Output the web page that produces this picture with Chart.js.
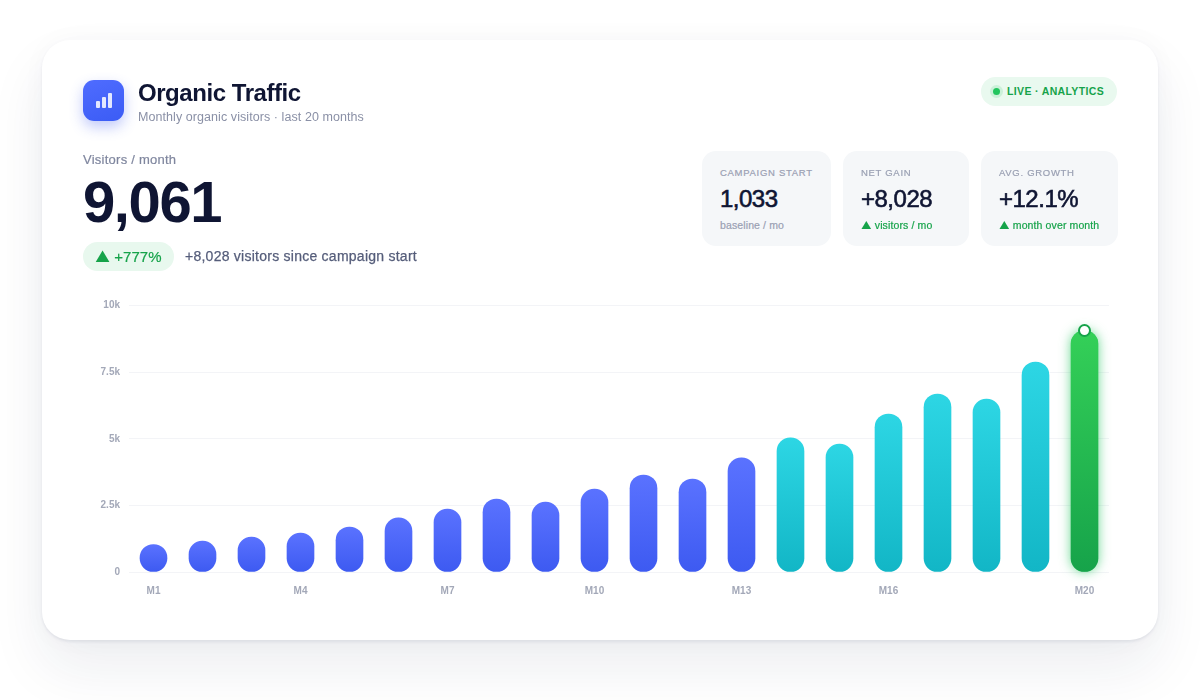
<!DOCTYPE html>
<html>
<head>
<meta charset="utf-8">
<title>Organic Traffic</title>
<script src="https://cdn.jsdelivr.net/npm/chart.js@4/dist/chart.umd.min.js"></script>
<style>
  * { box-sizing: border-box; }
  html, body { margin: 0; width: 1200px; height: 700px; overflow: hidden; background: #fff; font-family: "Liberation Sans", Arial, sans-serif; }
  .card { position: absolute; left: 42px; top: 40px; width: 1116px; height: 600px; background: #fff; border-radius: 28px;
          box-shadow: 0 2px 3px rgba(20,28,60,.07), 0 28px 56px rgba(30,40,80,.08), 0 0 24px rgba(30,40,80,.03); }
  #chartWrap { position: absolute; left: 0; top: 0; width: 1200px; height: 700px; }
  .abs { position: absolute; white-space: nowrap; }
  .tri { font-family: Inter, sans-serif; -webkit-text-stroke: 0; }
  .icon { left: 83px; top: 80px; width: 41px; height: 41px; border-radius: 11px; background: linear-gradient(160deg, #4f6cff, #3b5cf5);
          box-shadow: 0 6px 14px rgba(61,90,241,.32); }
  .icon i { position: absolute; bottom: 13px; width: 4px; background: rgba(255,255,255,.85); border-radius: 1px; }
  .title { left: 138px; top: 78px; font-size: 24px; line-height: 30px; font-weight: 700; color: #0f1533; letter-spacing: -.45px; }
  .sub { left: 138px; top: 109px; font-size: 12.5px; line-height: 16px; color: #8a90a6; letter-spacing: .07px; }
  .live { left: 981px; top: 77px; width: 136px; height: 29px; border-radius: 15px; background: #e9f9ef; }
  .live b { position: absolute; left: 26px; top: 7px; font-size: 10.5px; line-height: 15px; font-weight: 700; color: #16a34a; letter-spacing: .35px; }
  .live i { position: absolute; left: 12px; top: 11px; width: 7px; height: 7px; border-radius: 50%; background: #22c55e; box-shadow: 0 0 0 3px rgba(34,197,94,.15); }
  .kicker { left: 83px; top: 152px; font-size: 13px; line-height: 16px; color: #7f869e; letter-spacing: .25px; -webkit-text-stroke: .2px #7f869e; }
  .big { left: 83px; top: 169px; font-size: 58px; line-height: 66px; font-weight: 700; color: #0f1533; letter-spacing: -1.4px; }
  .pill { left: 83px; top: 242px; width: 91px; height: 29px; border-radius: 15px; background: #e8f8ee; color: #16a34a; font-size: 15px; line-height: 29px; padding-left: 12px; -webkit-text-stroke: .2px #16a34a; }
  .since { left: 185px; top: 248px; font-size: 14px; line-height: 17px; color: #555d7a; letter-spacing: .25px; -webkit-text-stroke: .25px #555d7a; }
  .stat { position: absolute; top: 151px; height: 95px; border-radius: 14px; background: #f5f7f9; }
  .stat .h { position: absolute; left: 18px; top: 15px; font-size: 9.5px; line-height: 13px; color: #9aa0b3; letter-spacing: .7px; white-space: nowrap; -webkit-text-stroke: .2px #9aa0b3; }
  .stat .v { position: absolute; left: 18px; top: 34px; font-size: 24px; line-height: 28px; color: #0f1533; letter-spacing: -.5px; white-space: nowrap; -webkit-text-stroke: .6px #0f1533; }
  .stat .f { position: absolute; left: 18px; top: 67px; font-size: 10.5px; line-height: 14px; color: #9aa0b3; letter-spacing: .12px; white-space: nowrap; -webkit-text-stroke: .2px #9aa0b3; }
  .stat .up { color: #16a34a; -webkit-text-stroke: .2px #16a34a; }
</style>
</head>
<body>
<div class="card"></div>
<div id="chartWrap"><canvas id="trafficChart" width="1200" height="700"></canvas></div>

<div class="abs icon"><i style="left:13px;height:7px"></i><i style="left:19px;height:11px"></i><i style="left:25px;height:15px"></i></div>
<div class="abs title">Organic Traffic</div>
<div class="abs sub">Monthly organic visitors · last 20 months</div>
<div class="abs live"><i></i><b>LIVE · ANALYTICS</b></div>
<div class="abs kicker">Visitors / month</div>
<div class="abs big">9,061</div>
<div class="abs pill"><span class="tri">▲</span> +777%</div>
<div class="abs since">+8,028 visitors since campaign start</div>

<div class="stat" style="left:702px;width:129px"><div class="h">CAMPAIGN START</div><div class="v">1,033</div><div class="f">baseline / mo</div></div>
<div class="stat" style="left:843px;width:126px"><div class="h">NET GAIN</div><div class="v">+8,028</div><div class="f up"><span class="tri">▲</span> visitors / mo</div></div>
<div class="stat" style="left:981px;width:137px"><div class="h">AVG. GROWTH</div><div class="v">+12.1%</div><div class="f up"><span class="tri">▲</span> month over month</div></div>

<script>
const months = ['M1','M2','M3','M4','M5','M6','M7','M8','M9','M10','M11','M12','M13','M14','M15','M16','M17','M18','M19','M20'];
const visitors = [1033,1160,1310,1460,1690,2030,2360,2740,2620,3110,3640,3490,4280,5030,4800,5930,6680,6490,7880,9061];
const latest = [null,null,null,null,null,null,null,null,null,null,null,null,null,null,null,null,null,null,null,9061];
const shownMonths = ['M1','M4','M7','M10','M13','M16','M20'];
const yTicks = [0,2500,5000,7500,10000];
const yTickLabels = ['0','2.5k','5k','7.5k','10k'];

// top and bottom colours for each stretch of bars
const blueBar = ['#5a72ff', '#3d5af1'];
const tealBar = ['#2dd6e4', '#12b6c6'];
const greenBar = ['#34d058', '#16a34a'];

function barColors(i) {
    if (i >= 19) return greenBar;
    if (i >= 13) return tealBar;
    return blueBar;
}

function barFill(c) {
    const colors = barColors(c.dataIndex);
    const area = c.chart.chartArea;
    if (!area) return colors[1];
    const y = c.chart.scales.y;
    const g = c.chart.ctx.createLinearGradient(0, y.getPixelForValue(visitors[c.dataIndex]), 0, y.getPixelForValue(0));
    g.addColorStop(0, colors[0]);
    g.addColorStop(1, colors[1]);
    return g;
}

// soft halo behind the newest bar
const glowPlugin = {
    id: 'lastBarGlow',
    beforeDatasetDraw(chart, args) {
        if (args.index !== 1) return;
        const bar = chart.getDatasetMeta(1).data[19];
        const ctx = chart.ctx;
        const w = bar.width;
        ctx.save();
        ctx.shadowColor = 'rgba(34,197,94,0.7)';
        ctx.shadowBlur = 12;
        ctx.fillStyle = '#22c55e';
        ctx.beginPath();
        ctx.roundRect(bar.x - w / 2, bar.y, w, bar.base - bar.y, w / 2);
        ctx.fill();
        ctx.restore();
    }
};

new Chart(document.getElementById('trafficChart').getContext('2d'), {
    type: 'bar',
    plugins: [glowPlugin],
    data: {
        labels: months,
        datasets: [
            {
                type: 'line',
                data: latest,
                order: 0,
                showLine: false,
                pointRadius: 5.5,
                pointBorderWidth: 2,
                pointBackgroundColor: '#ffffff',
                pointBorderColor: '#16a34a',
                clip: false
            },
            {
                data: visitors,
                order: 1,
                backgroundColor: barFill,
                borderRadius: 13.5,
                borderSkipped: false,
                barThickness: 27
            }
        ]
    },
    options: {
        responsive: false,
        animation: false,
        layout: { padding: { top: 305.5, right: 91, left: 0, bottom: 0 } },
        plugins: { legend: { display: false }, tooltip: { enabled: false } },
        scales: {
            x: {
                grid: { display: false },
                border: { display: false },
                afterFit(scale) { scale.height = 128; },
                ticks: {
                    autoSkip: false,
                    maxRotation: 0,
                    padding: 5,
                    color: '#a3a8b8',
                    font: { family: 'Liberation Sans', size: 10, weight: '700' },
                    callback(value) {
                        const name = months[value];
                        return shownMonths.includes(name) ? name : '';
                    }
                }
            },
            y: {
                min: 0,
                max: 10000,
                afterFit(scale) { scale.width = 129; },
                afterBuildTicks(scale) { scale.ticks = yTicks.map(v => ({ value: v })); },
                grid: { color: '#f3f4f7', lineWidth: 1, drawTicks: false },
                border: { display: false },
                ticks: {
                    padding: 9,
                    color: '#a3a8b8',
                    font: { family: 'Liberation Sans', size: 10, weight: '700' },
                    callback(value) { return yTickLabels[yTicks.indexOf(value)]; }
                }
            }
        }
    }
});
</script>
</body>
</html>
